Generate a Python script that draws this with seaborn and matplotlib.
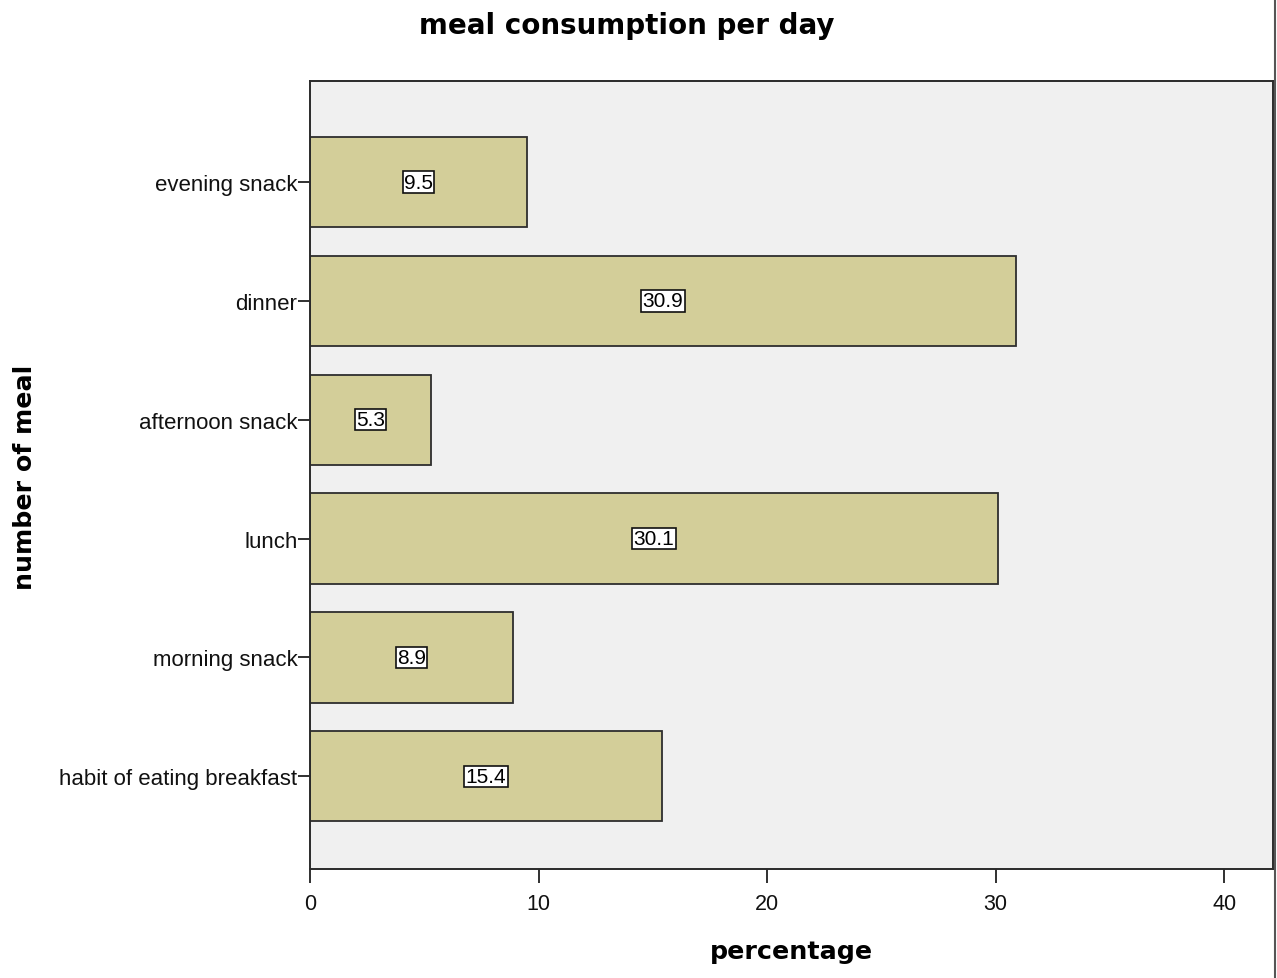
import matplotlib
matplotlib.use("Agg")
import matplotlib.pyplot as plt
import seaborn as sns
import pandas as pd

# Share of meals eaten per day, by meal type
meals = ["evening snack", "dinner", "afternoon snack", "lunch",
         "morning snack", "habit of eating breakfast"]
percentages = [9.5, 30.9, 5.3, 30.1, 8.9, 15.4]
x_ticks = [0, 10, 20, 30, 40]

df = pd.DataFrame({"meal": meals, "percentage": percentages})

sns.set_theme(style="white")
plt.rcParams["font.family"] = ["Liberation Sans", "DejaVu Sans"]

W, H = 1277, 979
fig = plt.figure(figsize=(W / 100, H / 100), dpi=100)
ax = fig.add_axes([310 / W, 1 - 870 / H, (1273 - 310) / W, (870 - 82) / H])
ax.set_facecolor("#F0F0F0")

sns.barplot(data=df, x="percentage", y="meal", order=meals, ax=ax,
            color="#D3CE99", saturation=1, width=0.76,
            edgecolor="#2E2E2E", linewidth=1.3)

ax.set_xlim(0, 42.14)
ax.set_ylim(5.78, -0.85)
ax.set_xticks(x_ticks)
ax.set_xticklabels([str(t) for t in x_ticks])

for i, v in enumerate(percentages):
    ax.text(v / 2, i, f"{v:.1f}", ha="center", va="center", fontsize=15,
            color="black",
            bbox=dict(boxstyle="square,pad=0.06", facecolor="white",
                      edgecolor="#111111", linewidth=1.2))

for s in ax.spines.values():
    s.set_color("#2A2A2A")
    s.set_linewidth(1.4)

ax.tick_params(axis="both", which="major", direction="out", width=1.3,
               color="#202020", labelcolor="#111111",
               bottom=True, left=True)
ax.tick_params(axis="y", length=9, pad=0, labelsize=16)
ax.tick_params(axis="x", length=10, pad=7, labelsize=15.5)

ax.set_xlabel("")
ax.set_ylabel("")
bold = dict(fontweight="bold", family=["DejaVu Sans"], color="black")
fig.text(627 / W, 1 - 26 / H, "meal consumption per day",
         ha="center", va="center", fontsize=20, **bold)
fig.text(791 / W, 1 - 952 / H, "percentage",
         ha="center", va="center", fontsize=18.3, **bold)
fig.text(25 / W, 1 - 477 / H, "number of meal", rotation=90,
         ha="center", va="center", fontsize=18.2, **bold)

# right-hand frame line of the figure
fig.add_artist(plt.Line2D([1274.5 / W, 1274.5 / W], [0, 1],
                          transform=fig.transFigure, color="#555555",
                          linewidth=1.5))

fig.savefig("out.png", dpi=100)
